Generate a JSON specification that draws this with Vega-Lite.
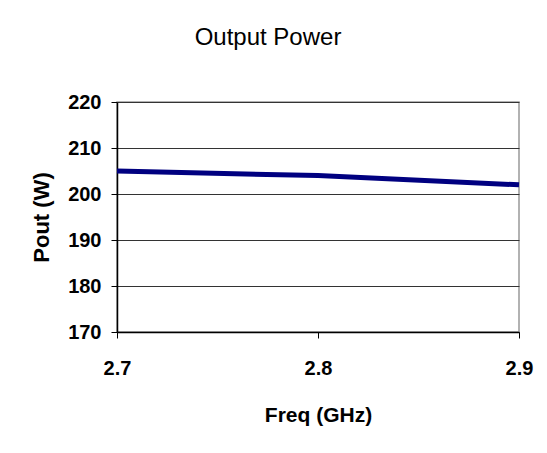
{
  "$schema": "https://vega.github.io/schema/vega-lite/v6.json",
  "width": 402,
  "height": 230,
  "autosize": {"type": "none"},
  "padding": {"left": 117, "top": 102, "right": 28, "bottom": 121},
  "background": "white",
  "title": {
    "text": "Output Power",
    "font": "Liberation Sans",
    "fontSize": 24,
    "fontWeight": "normal",
    "color": "black",
    "anchor": "middle",
    "frame": "group",
    "dx": -50,
    "offset": 42
  },
  "data": {
    "values": [
      {"freq": 2.7, "pout": 205},
      {"freq": 2.8, "pout": 204},
      {"freq": 2.9, "pout": 202}
    ]
  },
  "mark": {"type": "line", "color": "#000080", "strokeWidth": 5, "clip": false},
  "encoding": {
    "x": {
      "field": "freq",
      "type": "quantitative",
      "scale": {"domain": [2.7, 2.9], "nice": false, "zero": false},
      "axis": {
        "title": "Freq (GHz)",
        "values": [2.7, 2.8, 2.9],
        "format": ".1f",
        "grid": false,
        "labelFlush": false,
        "labelPadding": 20,
        "tickSize": 6,
        "titlePadding": 26,
        "titleFontSize": 21
      }
    },
    "y": {
      "field": "pout",
      "type": "quantitative",
      "scale": {"domain": [170, 220], "nice": false, "zero": false},
      "axis": {
        "title": "Pout (W)",
        "values": [170, 180, 190, 200, 210, 220],
        "tickSize": 6,
        "labelPadding": 10,
        "titlePadding": 14,
        "titleFontSize": 22,
        "gridColor": "#333333",
        "gridWidth": 1
      }
    }
  },
  "config": {
    "view": {"stroke": "#999999", "strokeWidth": 1.5},
    "axis": {
      "labelFont": "Liberation Sans",
      "labelFontSize": 20,
      "labelFontWeight": "bold",
      "labelColor": "black",
      "titleFont": "Liberation Sans",
      "titleFontWeight": "bold",
      "titleColor": "black",
      "domainColor": "black",
      "domainWidth": 1.5,
      "tickColor": "black",
      "tickWidth": 1
    }
  }
}
